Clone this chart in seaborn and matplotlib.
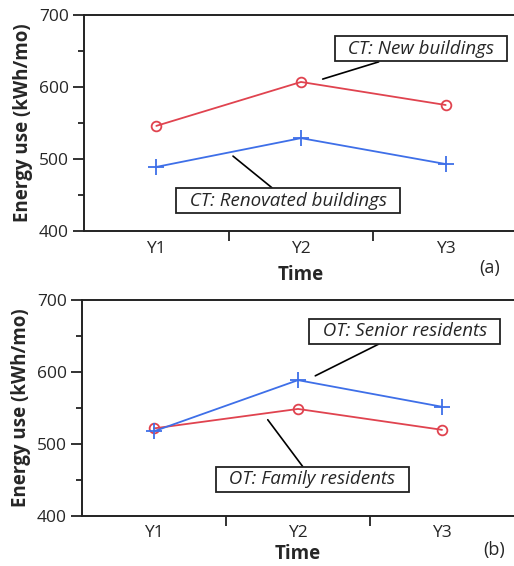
import pandas as pd
import matplotlib
matplotlib.use("Agg")
import matplotlib.pyplot as plt
from matplotlib.ticker import FixedLocator
import seaborn as sns

# data
years = ["Y1", "Y2", "Y3"]
ct_new = [546, 607, 575]
ct_renovated = [489, 529, 493]
ot_family = [521, 548, 519]
ot_senior = [517, 588, 551]

red = "#E0434F"
blue = "#3E6FE8"

sns.set_style("ticks")
plt.rcParams["font.family"] = ["Open Sans", "DejaVu Sans"]

fig = plt.figure(figsize=(5.14, 5.66), dpi=100)
ax_a = fig.add_axes([84 / 514, 1 - 231 / 566, (518 - 84) / 514, 216 / 566])
ax_b = fig.add_axes([82 / 514, 1 - 515.5 / 566, (514 - 82) / 514, 216 / 566])


def draw(ax, red_vals, blue_vals, xpad):
    df = pd.DataFrame({"Time": years * 2,
                       "val": red_vals + blue_vals,
                       "grp": ["r"] * 3 + ["b"] * 3})
    sns.lineplot(data=df[df.grp == "r"], x="Time", y="val", ax=ax, color=red,
                 lw=1.3, marker="o", markersize=7, markerfacecolor="none",
                 markeredgecolor=red, markeredgewidth=1.3)
    sns.lineplot(data=df[df.grp == "b"], x="Time", y="val", ax=ax, color=blue,
                 lw=1.3, marker="+", markersize=12, markeredgewidth=1.3,
                 markeredgecolor=blue)
    ax.set_xlim(-0.5, 2.5)
    ax.set_ylim(400, 700)
    ax.set_yticks([400, 500, 600, 700])
    ax.yaxis.set_minor_locator(FixedLocator([450, 550, 650]))
    ax.xaxis.set_minor_locator(FixedLocator([0.5, 1.5]))
    ax.tick_params(axis="x", which="major", length=0, labelsize=12.5, pad=7)
    ax.tick_params(axis="x", which="minor", length=7, width=1.3, color="#222222")
    ax.tick_params(axis="y", which="major", length=8, width=1.3, labelsize=12.5,
                   color="#222222", pad=3)
    ax.tick_params(axis="y", which="minor", length=4, width=1.3, color="#222222")
    ax.set_xlabel("Time", fontsize=13.5, fontweight="bold", labelpad=xpad)
    ax.set_ylabel("Energy use (kWh/mo)", fontsize=13.5, fontweight="bold", labelpad=4)
    for s in ["left", "bottom", "top"]:
        ax.spines[s].set_visible(True)
        ax.spines[s].set_linewidth(1.4)
        ax.spines[s].set_color("#222222")
    ax.spines["right"].set_visible(False)


draw(ax_a, ct_new, ct_renovated, 6)
draw(ax_b, ot_family, ot_senior, 2)

box = dict(boxstyle="square,pad=0.18", fc="white", ec="#222222", lw=1.3)
arrow = dict(arrowstyle="-", color="black", lw=1.2, shrinkA=0, shrinkB=0)
note = dict(ha="center", va="center", fontsize=13.5, style="italic",
            bbox=box, arrowprops=arrow)

ax_a.annotate("  CT: New buildings  ", xy=(1.15, 611), xytext=(1.83, 653), **note)
ax_a.annotate("  CT: Renovated buildings  ", xy=(0.53, 504), xytext=(0.91, 442), **note)
ax_b.annotate("  OT: Senior residents  ", xy=(1.12, 594), xytext=(1.74, 656), **note)
ax_b.annotate("  OT: Family residents  ", xy=(0.79, 533), xytext=(1.10, 450), **note)

fig.text(490 / 514, 1 - 268 / 566, "(a)", ha="center", va="center", fontsize=13)
fig.text(494 / 514, 1 - 550 / 566, "(b)", ha="center", va="center", fontsize=13)

fig.savefig("out.png", dpi=100)
